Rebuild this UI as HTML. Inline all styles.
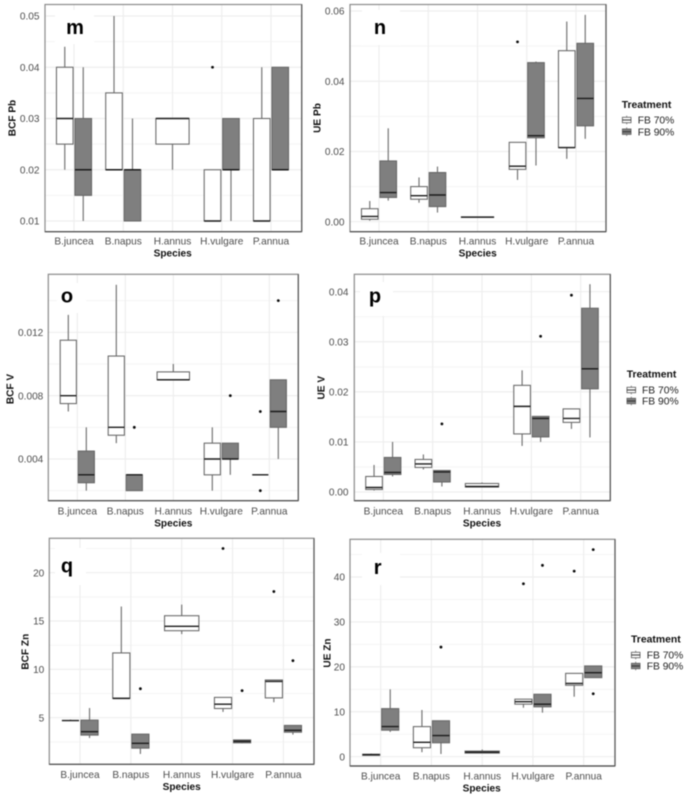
<!DOCTYPE html>
<html lang="en">
<head>
<meta charset="utf-8">
<title>Boxplots of BCF and UE by species and treatment</title>
<style>
html,body{margin:0;padding:0;background:#fff;width:685px;height:795px;overflow:hidden}
svg{display:block;filter:blur(0.4px);font-family:"Liberation Sans",sans-serif}
</style>
</head>
<body>
<svg id="figure" width="685" height="795" viewBox="0 0 685 795" xmlns="http://www.w3.org/2000/svg"></svg>
<script>
// Shared categories and series names
const categories = ["B.juncea", "B.napus", "H.annus", "H.vulgare", "P.annua"];
const treatments = ["FB 70%", "FB 90%"];

// Each box is [lower whisker, q1, median, q3, upper whisker]; null = no box.
const mTicks = [0.01, 0.02, 0.03, 0.04, 0.05];
const mFb70 = [[0.02,0.025,0.03,0.04,0.044],[0.02,0.02,0.02,0.035,0.05],[0.02,0.025,0.03,0.03,0.03],[0.01,0.01,0.01,0.02,0.02],[0.01,0.01,0.01,0.03,0.04]];
const mFb90 = [[0.01,0.015,0.02,0.03,0.04],[0.01,0.01,0.02,0.02,0.03],null,[0.01,0.02,0.02,0.03,0.03],[0.02,0.02,0.02,0.04,0.04]];
const mOut70 = [[],[],[],[0.04],[]];
const mOut90 = [[],[],[],[],[]];

const nTicks = [0, 0.02, 0.04, 0.06];
const nFb70 = [[0.0003,0.0007,0.0015,0.0037,0.0059],[0.0054,0.0064,0.0074,0.01,0.0126],[0.0013,0.0013,0.0013,0.0013,0.0013],[0.0119,0.0149,0.0158,0.0226,0.0226],[0.0179,0.0211,0.0211,0.0487,0.057]];
const nFb90 = [[0.006,0.0069,0.0083,0.0173,0.0266],[0.0026,0.0043,0.0076,0.014,0.0157],null,[0.016,0.0239,0.0245,0.0453,0.0456],[0.0236,0.0273,0.0351,0.0508,0.0589]];
const nOut70 = [[],[],[],[0.0512],[]];
const nOut90 = [[],[],[],[],[]];

const oTicks = [0.004, 0.008, 0.012];
const oFb70 = [[0.007,0.0075,0.008,0.0115,0.0131],[0.005,0.0055,0.006,0.0105,0.015],[0.009,0.009,0.009,0.0095,0.01],[0.002,0.003,0.004,0.005,0.006],[0.003,0.003,0.003,0.003,0.003]];
const oFb90 = [[0.002,0.0025,0.003,0.0045,0.006],[0.002,0.002,0.003,0.003,0.003],null,[0.003,0.004,0.004,0.005,0.005],[0.004,0.006,0.007,0.009,0.009]];
const oOut70 = [[],[],[],[],[0.007,0.002]];
const oOut90 = [[],[0.006],[],[0.008],[0.014]];

const pTicks = [0, 0.01, 0.02, 0.03, 0.04];
const pFb70 = [[0.0003,0.0005,0.0009,0.0031,0.0054],[0.0045,0.0049,0.0056,0.0065,0.0075],[0.001,0.001,0.0011,0.0017,0.0019],[0.0092,0.0116,0.0171,0.0213,0.0243],[0.0126,0.0139,0.0147,0.0166,0.0166]];
const pFb90 = [[0.0031,0.0035,0.0039,0.0069,0.01],[0.0011,0.002,0.004,0.0043,0.0043],null,[0.01,0.011,0.0147,0.0151,0.0151],[0.0109,0.0206,0.0246,0.0367,0.0415]];
const pOut70 = [[],[],[],[],[0.0393]];
const pOut90 = [[],[0.0136],[],[0.0311],[]];

const qTicks = [5, 10, 15, 20];
const qFb70 = [[4.7,4.7,4.7,4.7,4.8],[7,7,7,11.7,16.5],[13.65,14,14.45,15.55,16.7],[5.6,5.95,6.4,7.1,7.1],[6.6,7.05,8.75,8.9,8.9]];
const qFb90 = [[2.9,3.2,3.55,4.75,6],[1.25,1.85,2.35,3.3,3.3],null,[2.35,2.4,2.55,2.7,2.7],[3.25,3.5,3.7,4.2,4.2]];
const qOut70 = [[],[],[],[22.5],[18.05]];
const qOut90 = [[],[8],[],[7.8],[10.9]];

const rTicks = [0, 10, 20, 30, 40];
const rFb70 = [[0.3,0.3,0.45,0.55,0.7],[1,2,3.2,6.7,10.4],[0.8,0.8,1,1.25,1.6],[10.9,11.7,12.25,12.8,12.8],[13.35,15.9,16.3,18.55,18.55]];
const rFb90 = [[5.5,5.9,6.7,10.7,15],[0.6,3.1,4.7,8,8],null,[9.8,11.1,11.7,13.9,13.9],[17.6,17.6,18.7,20.2,20.2]];
const rOut70 = [[],[],[],[38.5],[41.3]];
const rOut90 = [[],[24.4],[],[42.6],[46.1,14]];

// Panel layout (pixels) and per-panel data wiring
const panels = [
 {id:"m",yTitle:"BCF Pb",ticks:mTicks,fmt:2,a:mFb70,b:mFb90,oa:mOut70,ob:mOut90,L:45,R:301.7,T:4.5,B:231.7,vLo:0.01,pxLo:221,vHi:0.05,pxHi:16,x0:74,dx:49.25,tickR:39.5,yTx:12,yTy:118,xLab:241,xTitle:253,xTx:172.7,lx:75,ly:34,wb:[55,10,39,34]},
 {id:"n",yTitle:"UE Pb",ticks:nTicks,fmt:2,a:nFb70,b:nFb90,oa:nOut70,ob:nOut90,L:350,R:606,T:4.5,B:231.7,vLo:0,pxLo:221.7,vHi:0.06,pxHi:11,x0:379,dx:49.25,tickR:344.5,yTx:317,yTy:118,xLab:241,xTitle:253,xTx:477.7,lx:380,ly:34,wb:[362,10,38,35],leg:[621.7,108,626.7,120,131.7,637.7]},
 {id:"o",yTitle:"BCF V",ticks:oTicks,fmt:3,a:oFb70,b:oFb90,oa:oOut70,ob:oOut90,L:48.3,R:298.3,T:274.3,B:500.7,vLo:0.004,pxLo:459,vHi:0.012,pxHi:332.3,x0:77.3,dx:48,tickR:43.3,yTx:10,yTy:389,xLab:510.7,xTitle:522.7,xTx:173.3,lx:67,ly:302.7,wb:[57,283,29,30]},
 {id:"p",yTitle:"UE V",ticks:pTicks,fmt:2,a:pFb70,b:pFb90,oa:pOut70,ob:pOut90,L:354.3,R:610.3,T:274.3,B:500.7,vLo:0,pxLo:492,vHi:0.04,pxHi:291.7,x0:383.3,dx:49.35,tickR:348.5,yTx:320.7,yTy:387.7,xLab:510.7,xTitle:522.7,xTx:482,lx:375,ly:302.7,wb:[360,282,33,34],leg:[626.7,377.7,631.3,390,401,642]},
 {id:"q",yTitle:"BCF Zn",ticks:qTicks,fmt:0,a:qFb70,b:qFb90,oa:qOut70,ob:qOut90,L:49.3,R:314,T:538.3,B:764.3,vLo:5,pxLo:717.7,vHi:20,pxHi:572.7,x0:80,dx:50.85,tickR:44.3,yTx:25,yTy:651.7,xLab:774.3,xTitle:786.3,xTx:181.7,lx:67,ly:572.7,wb:[55,548,31,37]},
 {id:"r",yTitle:"UE Zn",ticks:rTicks,fmt:0,a:rFb70,b:rFb90,oa:rOut70,ob:rOut90,L:350,R:615,T:539.3,B:766,vLo:0,pxLo:756.7,vHi:40,pxHi:577,x0:380.7,dx:50.75,tickR:345,yTx:326.7,yTy:653,xLab:775.7,xTitle:787.7,xTx:481.7,lx:377.7,ly:574,wb:[362,553,38,32],leg:[631,642.7,635.7,655,666,646.7]}
];

const NS = "http://www.w3.org/2000/svg";
const root = document.getElementById("figure");

function make(parent, tag, attrs, text) {
  const e = document.createElementNS(NS, tag);
  for (const k in attrs) e.setAttribute(k, attrs[k]);
  if (text !== undefined) e.textContent = text;
  parent.appendChild(e);
  return e;
}

function drawBox(g, p, box, cx, w, fill, name, yScale) {
  if (!box) return;
  const group = make(g, "g", {});
  
  
  const upper = make(group, "line", {x1:cx, x2:cx, y1:yScale(box[3]), y2:yScale(box[4]), stroke:"#757575", "stroke-width":1.2});
  
  
  const lower = make(group, "line", {x1:cx, x2:cx, y1:yScale(box[1]), y2:yScale(box[0]), stroke:"#757575", "stroke-width":1.2});
  
  
  const top = yScale(box[3]);
  const rect = make(group, "rect", {x:cx - w/2, y:top, width:w, height:Math.max(0, yScale(box[1]) - top), fill:fill, stroke:"#666", "stroke-width":1.05});
  
  
  const med = make(group, "line", {x1:cx - w/2, x2:cx + w/2, y1:yScale(box[2]), y2:yScale(box[2]), stroke:"#1a1a1a", "stroke-width":1.4});
  
  
}

function drawOutliers(g, list, cx, yScale) {
  list.forEach(function (v) {
    const dot = make(g, "circle", {cx:cx, cy:yScale(v), r:1.4, fill:"#0a0a0a"});
    
    
  });
}

function drawLegend(leg) {
  const g = make(root, "g", {});
  
  
  const title = make(g, "text", {x:leg[0], y:leg[1], "font-size":10.4, "font-weight":"bold", fill:"#111"}, "Treatment");
  
  
  treatments.forEach(function (label, i) {
    const cy = leg[3 + i];
    const fill = i === 0 ? "#fff" : "#7f7f7f";
    const entry = make(g, "g", {});
    
    
    make(entry, "line", {x1:leg[2], x2:leg[2], y1:cy - 4.3, y2:cy + 4.3, stroke:"#7a7a7a", "stroke-width":0.9});
    make(entry, "rect", {x:leg[2] - 4.3, y:cy - 2.7, width:8.6, height:5.4, fill:fill, stroke:"#666", "stroke-width":0.9});
    make(entry, "line", {x1:leg[2] - 4.3, x2:leg[2] + 4.3, y1:cy, y2:cy, stroke:"#333", "stroke-width":1});
    const t = make(entry, "text", {x:leg[5], y:cy + 3.7, "font-size":10.3, fill:"#222"}, label);
    
    
  });
}

panels.forEach(function (p) {
  const yScale = function (v) { return p.pxLo + (v - p.vLo) * (p.pxHi - p.pxLo) / (p.vHi - p.vLo); };
  const xScale = function (i) { return p.x0 + i * p.dx; };
  const g = make(root, "g", {});
  
  

  // gridlines: major at ticks, minor halfway between
  const step = p.ticks[1] - p.ticks[0];
  for (let k = -2; k < p.ticks.length + 2; k++) {
    const minorPx = yScale(p.ticks[0] + (k + 0.5) * step);
    if (minorPx > p.T && minorPx < p.B) {
      const minor = make(g, "line", {x1:p.L, x2:p.R, y1:minorPx, y2:minorPx, stroke:"#f5f5f5", "stroke-width":1});
      
      
    }
  }
  p.ticks.forEach(function (t) {
    const major = make(g, "line", {x1:p.L, x2:p.R, y1:yScale(t), y2:yScale(t), stroke:"#eeeeee", "stroke-width":1.2});
    
    
    const lab = make(g, "text", {x:p.tickR, y:yScale(t) + 3.6, "font-size":10.1, "text-anchor":"end", fill:"#4d4d4d"}, t.toFixed(p.fmt));
    
    
  });
  categories.forEach(function (c, i) {
    const v = make(g, "line", {x1:xScale(i), x2:xScale(i), y1:p.T, y2:p.B, stroke:"#eeeeee", "stroke-width":1.2});
    
    
    const lab = make(g, "text", {x:xScale(i), y:p.xLab + 3.6, "font-size":10.1, "text-anchor":"middle", fill:"#4d4d4d"}, c);
    
    
  });

  // white patch behind the panel letter
  const patch = make(g, "rect", {x:p.wb[0], y:p.wb[1], width:p.wb[2], height:p.wb[3], fill:"#fff"});
  
  

  // boxes
  categories.forEach(function (c, i) {
    const cx = xScale(i);
    const both = p.a[i] && p.b[i];
    const d = both ? 0.1875 * p.dx : 0;
    const w = both ? 0.3375 * p.dx : 0.675 * p.dx;
    drawBox(g, p, p.a[i], cx - d, w, "#fff", 'box-' + c + '-fb70', yScale);
    drawBox(g, p, p.b[i], cx + d, w, "#7f7f7f", 'box-' + c + '-fb90', yScale);
    const dd = 0.1875 * p.dx;
    drawOutliers(g, p.oa[i], cx - dd, yScale);
    drawOutliers(g, p.ob[i], cx + dd, yScale);
  });

  // frame
  const frame = make(g, "rect", {x:p.L, y:p.T, width:p.R - p.L, height:p.B - p.T, fill:"none", stroke:"#8a8a8a", "stroke-width":1.2});
  
  
  const xAxis = make(g, "line", {x1:p.L, x2:p.R, y1:p.B, y2:p.B, stroke:"#4a4a4a", "stroke-width":1.2});
  
  
  const rAxis = make(g, "line", {x1:p.R, x2:p.R, y1:p.T, y2:p.B, stroke:"#5a5a5a", "stroke-width":1.2});
  
  

  // titles
  const xt = make(g, "text", {x:p.xTx, y:p.xTitle + 3.6, "font-size":10.1, "font-weight":"bold", "text-anchor":"middle", fill:"#111"}, "Species");
  
  
  const yt = make(g, "text", {x:0, y:0, transform:"translate(" + (p.yTx + 3.6) + "," + p.yTy + ") rotate(-90)", "font-size":10.1, "font-weight":"bold", "text-anchor":"middle", fill:"#111"}, p.yTitle);
  
  
  const letter = make(g, "text", {x:p.lx, y:p.ly, "font-size":20, "font-weight":"bold", "text-anchor":"middle", fill:"#000"}, p.id);
  
  

  if (p.leg) drawLegend(p.leg);
});
</script>
</body>
</html>
